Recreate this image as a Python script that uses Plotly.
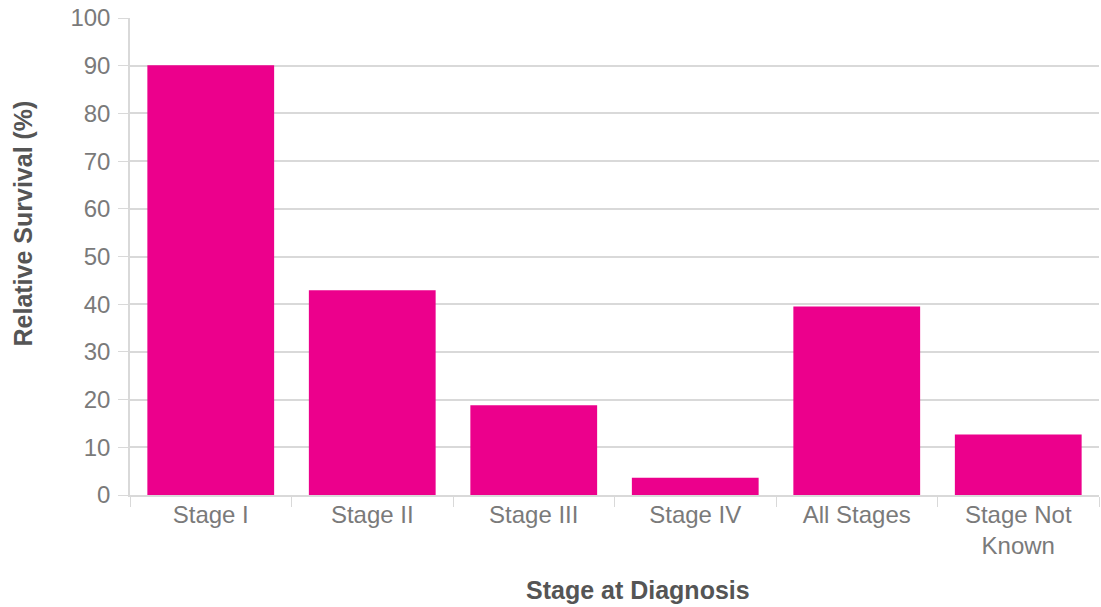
import plotly.graph_objects as go

# Relative survival by stage at diagnosis
stages = ["Stage I", "Stage II", "Stage III", "Stage IV", "All Stages", "Stage Not<br>Known"]
survival = [90.1, 42.9, 18.8, 3.6, 39.5, 12.7]
y_ticks = [0, 10, 20, 30, 40, 50, 60, 70, 80, 90, 100]

bar_color = "#ec008c"
grid_color = "#d9d9d9"
label_color = "#7a7a7a"
title_color = "#555555"
font_family = "Liberation Sans, Arial, sans-serif"

fig = go.Figure(
    go.Bar(
        x=stages,
        y=survival,
        marker=dict(color=bar_color, line=dict(width=0)),
        hoverinfo="x+y",
    )
)

fig.update_layout(
    width=1101,
    height=607,
    margin=dict(l=130, r=2, t=18, b=112),
    plot_bgcolor="white",
    paper_bgcolor="white",
    bargap=0.215,
    showlegend=False,
    font=dict(family=font_family, size=24, color=label_color),
)

fig.update_xaxes(
    showline=True,
    linecolor=grid_color,
    linewidth=1.5,
    ticks="outside",
    tickson="boundaries",
    ticklen=10,
    tickcolor=grid_color,
    tickfont=dict(size=24, color=label_color),
    ticklabelstandoff=-3,
    showgrid=False,
    automargin=False,
)

fig.update_yaxes(
    range=[0, 100],
    tickvals=y_ticks,
    showgrid=True,
    gridcolor=grid_color,
    gridwidth=1.5,
    showline=True,
    linecolor=grid_color,
    linewidth=1.5,
    ticks="outside",
    ticklen=10,
    tickcolor=grid_color,
    tickfont=dict(size=24, color=label_color),
    ticklabelstandoff=3,
    zeroline=False,
    automargin=False,
)

# Axis titles placed in paper coordinates
title_font = dict(family=font_family, size=25, color=title_color)
fig.add_annotation(
    text="<b>Stage at Diagnosis</b>",
    xref="paper", yref="paper",
    x=0.524, y=-0.199,
    xanchor="center", yanchor="middle",
    showarrow=False, font=title_font,
)
fig.add_annotation(
    text="<b>Relative Survival (%)</b>",
    xref="paper", yref="paper",
    x=-0.110, y=0.57,
    xanchor="center", yanchor="middle",
    textangle=-90,
    showarrow=False, font=title_font,
)

fig.write_html("out.html")
